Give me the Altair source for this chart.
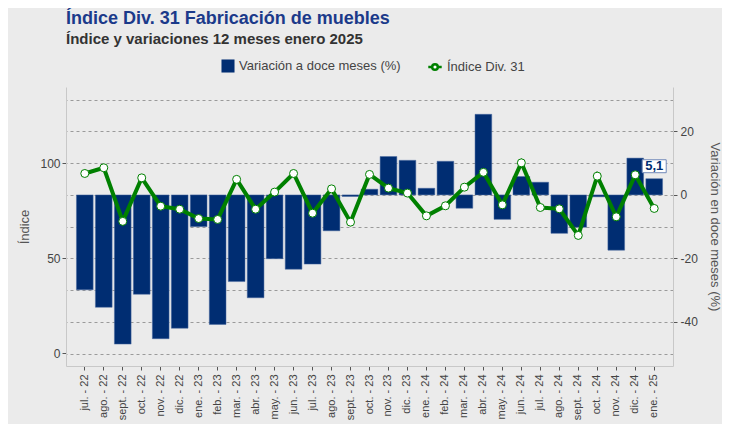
import altair as alt
import pandas as pd

meses = ["jul. - 22", "ago. - 22", "sept. - 22", "oct. - 22", "nov. - 22", "dic. - 22",
         "ene. - 23", "feb. - 23", "mar. - 23", "abr. - 23", "may. - 23", "jun. - 23",
         "jul. - 23", "ago. - 23", "sept. - 23", "oct. - 23", "nov. - 23", "dic. - 23",
         "ene. - 24", "feb. - 24", "mar. - 24", "abr. - 24", "may. - 24", "jun. - 24",
         "jul. - 24", "ago. - 24", "sept. - 24", "oct. - 24", "nov. - 24", "dic. - 24",
         "ene. - 25"]
variacion = [-29.9, -35.4, -47.0, -31.3, -45.3, -42.0, -10.0, -40.8, -27.3, -32.4, -20.1, -23.4,
             -21.8, -11.3, -0.5, 1.8, 12.1, 10.9, 2.1, 10.6, -4.2, 25.4, -7.7, 5.8,
             4.0, -12.1, -10.2, -0.6, -17.4, 11.6, 5.1]
indice = [94.7, 97.7, 69.5, 92.4, 77.5, 75.9, 71.0, 70.5, 91.6, 75.9, 84.9, 94.7,
          73.8, 86.6, 69.1, 94.2, 87.0, 84.4, 72.4, 77.7, 87.5, 95.3, 78.2, 100.3,
          76.8, 76.1, 62.1, 93.3, 71.9, 94.0, 76.3]
serie_barras = "Variación a doce meses (%)"
serie_linea = "Índice Div. 31"
etiqueta_ultima = "5,1"

df = pd.DataFrame({"mes": meses, "variacion": variacion, "indice": indice})
df["sb"] = serie_barras
df["sl"] = serie_linea
lbl = df.iloc[[-1]].copy()
lbl["texto"] = etiqueta_ultima

NAVY = "#002D72"
GREEN = "#008000"
FONT = "Liberation Sans"
R_DOMAIN = [-53.9, 34.0]
L_DOMAIN = [-6.6, 140.2]

x = alt.X("mes:N", sort=meses, title=None,
          scale=alt.Scale(paddingInner=0.12, paddingOuter=0.55),
          axis=alt.Axis(labelAngle=-90, labelAlign="right", labelBaseline="middle",
                        labelPadding=4, tickSize=4, tickColor="#555", domainColor="#c8c8c8",
                        labelColor="#444", labelFontSize=11, labelFont=FONT))

bars = alt.Chart(df).mark_bar(stroke="#4a6aa0", strokeWidth=0.5).encode(
    x=x,
    y=alt.Y("variacion:Q", title="Variación en doce meses (%)",
            scale=alt.Scale(domain=R_DOMAIN, nice=False, zero=False),
            axis=alt.Axis(orient="right", values=list(range(-50, 31, 10)),
                          labelExpr="datum.value % 20 == 0 ? '' + datum.value : ''",
                          grid=True, gridDash=[3, 3], gridColor="#9a9a9a", gridWidth=1,
                          tickOpacity={"condition": {"test": "datum.value % 20 == 0", "value": 1}, "value": 0},
                          tickSize=4, tickColor="#555", domainColor="#c8c8c8",
                          labelColor="#444", labelFontSize=12, labelPadding=3,
                          titleColor="#555", titleFontSize=13, titleFontWeight="normal",
                          titlePadding=10)),
    fill=alt.Fill("sb:N", scale=alt.Scale(domain=[serie_barras], range=[NAVY]),
                  legend=alt.Legend(title=None, orient="none", legendX=155, legendY=-28,
                                    symbolType="square", symbolSize=170, symbolStrokeWidth=0,
                                    labelFontSize=13, labelColor="#444", labelFont=FONT,
                                    labelLimit=400)),
)

yL = alt.Y("indice:Q", title="Índice",
           scale=alt.Scale(domain=L_DOMAIN, nice=False, zero=False),
           axis=alt.Axis(orient="left", values=[0, 50, 100], grid=False,
                         tickSize=4, tickColor="#555", domainColor="#c8c8c8",
                         labelColor="#444", labelFontSize=12, labelPadding=2,
                         titleColor="#555", titleFontSize=13, titleFontWeight="normal",
                         titlePadding=8))

line = alt.Chart(df).mark_line(color=GREEN, strokeWidth=4).encode(x=x, y=yL)

sym = "M-1,0 H-0.42 M0.42,0 H1 M-0.42,0 A0.42,0.42 0 1,1 0.42,0 A0.42,0.42 0 1,1 -0.42,0 Z"
pts = alt.Chart(df).mark_point(filled=True, fill="white", strokeWidth=1, size=64, opacity=1).encode(
    x=x, y=yL,
    stroke=alt.Stroke("sl:N", scale=alt.Scale(domain=[serie_linea], range=[GREEN]),
                      legend=alt.Legend(title=None, orient="none", legendX=361, legendY=-28,
                                        symbolType=sym, symbolSize=180, symbolStrokeWidth=2.5,
                                        symbolFillColor="white",
                                        labelFontSize=13, labelColor="#444", labelFont=FONT,
                                        labelLimit=400)),
)

box_path = "M-1,-0.54 H1 V0.54 H-1 Z"
lbl_box = alt.Chart(lbl).mark_point(shape=box_path, size=576, filled=True, fill="white",
                                    stroke="#7088b8", strokeWidth=1, opacity=1,
                                    yOffset=-12.5).encode(
    x=x, y=alt.Y("variacion:Q", scale=alt.Scale(domain=R_DOMAIN, nice=False, zero=False), axis=None))
lbl_txt = alt.Chart(lbl).mark_text(font=FONT, fontSize=13, fontWeight="bold", color=NAVY,
                                   dy=-12.5, baseline="middle").encode(
    x=x, y=alt.Y("variacion:Q", scale=alt.Scale(domain=R_DOMAIN, nice=False, zero=False), axis=None),
    text="texto:N")

chart = alt.layer(
    bars,
    alt.layer(line, pts),
    alt.layer(lbl_box, lbl_txt),
).resolve_scale(y="independent").properties(
    width=607, height=279,
    autosize=alt.AutoSizeParams(type="none"),
    padding={"left": 58, "top": 79, "right": 49, "bottom": 58},
    background="#EBEBEB",
    title=alt.TitleParams(
        text="Índice Div. 31 Fabricación de muebles",
        subtitle="Índice y variaciones 12 meses enero 2025",
        anchor="start", frame="group", font=FONT, fontSize=18, fontWeight="bold",
        color="#1B3A8A", subtitleFont=FONT, subtitleFontSize=15, subtitleFontWeight="bold",
        subtitleColor="#333333", subtitlePadding=4, offset=12),
).configure_view(stroke=None).configure_axis(labelFont=FONT, titleFont=FONT)

chart.save("out.html", embed_options={"renderer": "svg", "actions": False})
